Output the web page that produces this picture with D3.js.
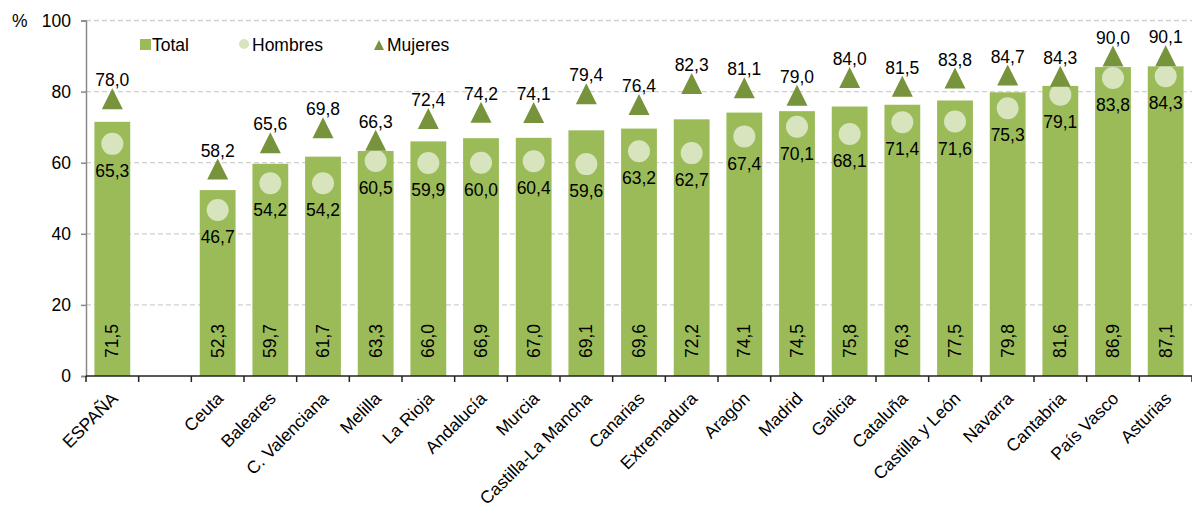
<!DOCTYPE html>
<html>
<head>
<meta charset="utf-8">
<script src="https://cdnjs.cloudflare.com/ajax/libs/d3/7.8.5/d3.min.js"></script>
<style>
  body { margin: 0; background: #fff; }
  svg { font-family: "Liberation Sans", Arial, sans-serif; }
</style>
</head>
<body>
<svg id="chart" width="1192" height="508"></svg>
<script>
const categories = ["ESPAÑA", "", "Ceuta", "Baleares", "C. Valenciana", "Melilla", "La Rioja", "Andalucía", "Murcia",
    "Castilla-La Mancha", "Canarias", "Extremadura", "Aragón", "Madrid", "Galicia", "Cataluña",
    "Castilla y León", "Navarra", "Cantabria", "País Vasco", "Asturias"];
const total   = [71.5, null, 52.3, 59.7, 61.7, 63.3, 66.0, 66.9, 67.0, 69.1, 69.6, 72.2, 74.1, 74.5, 75.8, 76.3, 77.5, 79.8, 81.6, 86.9, 87.1];
const hombres = [65.3, null, 46.7, 54.2, 54.2, 60.5, 59.9, 60.0, 60.4, 59.6, 63.2, 62.7, 67.4, 70.1, 68.1, 71.4, 71.6, 75.3, 79.1, 83.8, 84.3];
const mujeres = [78.0, null, 58.2, 65.6, 69.8, 66.3, 72.4, 74.2, 74.1, 79.4, 76.4, 82.3, 81.1, 79.0, 84.0, 81.5, 83.8, 84.7, 84.3, 90.0, 90.1];
const yTicks = [0, 20, 40, 60, 80, 100];

const margin = {top: 20.5, right: 0, bottom: 132, left: 86};
const width = 1192 - margin.left - margin.right;
const height = 508 - margin.top - margin.bottom;
const fs = 17.5;

const fmt = v => v.toFixed(1).replace(".", ",");
const colBar = "#9bbb59", colCircle = "#d7e4bd", colTri = "#77933c";
// triangle centred on its bounding box
const triPath = s => `M0,${-s / 2}L${s / 2},${s / 2}L${-s / 2},${s / 2}Z`;

const svg = d3.select("#chart");
const g = svg.append("g").attr("transform", `translate(${margin.left},${margin.top})`);

const x = d3.scaleBand().domain(d3.range(categories.length)).range([0, width]).paddingInner(0.32).paddingOuter(0.16);
const y = d3.scaleLinear().domain([0, 100]).range([height, 0]);
const step = x.step();
const cx = i => x(i) + x.bandwidth() / 2;

// grid
g.selectAll(".grid").data(yTicks.filter(d => d > 0)).join("line")
    .attr("x1", 0).attr("x2", width)
    .attr("y1", d => y(d)).attr("y2", d => y(d))
    .attr("stroke", "#d0d0d0").attr("stroke-width", 1.3).attr("stroke-dasharray", "5,3");

// y axis
const yAxis = g.append("g").call(d3.axisLeft(y).tickValues(yTicks).tickSize(5).tickPadding(10));
yAxis.select(".domain").attr("stroke", "#888").attr("stroke-width", 1.5);
yAxis.selectAll(".tick line").attr("stroke", "#888").attr("stroke-width", 1.5);
yAxis.selectAll("text").attr("font-size", fs).attr("fill", "#000").attr("font-family", "Liberation Sans, Arial, sans-serif");
svg.append("text").attr("x", 12).attr("y", y(100) + margin.top).attr("dy", "0.35em")
    .attr("font-size", fs).text("%");

const data = categories.map((c, i) => ({c, i, t: total[i], h: hombres[i], m: mujeres[i]})).filter(d => d.t != null);

// bars
g.selectAll(".bar").data(data).join("rect")
    .attr("x", d => x(d.i)).attr("width", x.bandwidth())
    .attr("y", d => y(d.t)).attr("height", d => height - y(d.t))
    .attr("fill", colBar);

g.selectAll(".tlab").data(data).join("text")
    .attr("transform", d => `translate(${cx(d.i)},${height - 18}) rotate(-90)`)
    .attr("dy", "0.35em").attr("font-size", fs).text(d => fmt(d.t));

// x axis
const xAxisG = g.append("g").attr("transform", `translate(0,${height})`);
xAxisG.append("line").attr("x1", 0).attr("x2", width).attr("stroke", "#222").attr("stroke-width", 1.5);
xAxisG.selectAll(".xt").data(d3.range(categories.length + 1)).join("line")
    .attr("x1", i => i * step).attr("x2", i => i * step)
    .attr("y1", 0).attr("y2", 6).attr("stroke", "#222").attr("stroke-width", 1.5);
xAxisG.selectAll(".xl").data(data).join("text")
    .attr("transform", d => `translate(${cx(d.i) - 2},${15}) rotate(-45)`)
    .attr("text-anchor", "end").attr("dy", "0.7em").attr("font-size", fs).text(d => d.c);

// hombres
g.selectAll(".hom").data(data).join("circle")
    .attr("cx", d => cx(d.i)).attr("cy", d => y(d.h)).attr("r", 11)
    .attr("fill", colCircle);
g.selectAll(".hlab").data(data).join("text")
    .attr("x", d => cx(d.i)).attr("y", d => y(d.h) + 27)
    .attr("dy", "0.35em").attr("text-anchor", "middle").attr("font-size", fs).text(d => fmt(d.h));

// mujeres
g.selectAll(".muj").data(data).join("path")
    .attr("d", triPath(21)).attr("transform", d => `translate(${cx(d.i)},${y(d.m)})`)
    .attr("fill", colTri);
g.selectAll(".mlab").data(data).join("text")
    .attr("x", d => cx(d.i)).attr("y", d => y(d.m) - 18.5)
    .attr("dy", "0.35em").attr("text-anchor", "middle").attr("font-size", fs).text(d => fmt(d.m));

// legend
const leg = svg.append("g").attr("font-size", fs);
leg.append("rect").attr("x", 140).attr("y", 39).attr("width", 11).attr("height", 11).attr("fill", colBar);
leg.append("text").attr("x", 152).attr("y", 45).attr("dy", "0.35em").text("Total");
leg.append("circle").attr("cx", 244).attr("cy", 44).attr("r", 5).attr("fill", colCircle);
leg.append("text").attr("x", 252).attr("y", 45).attr("dy", "0.35em").text("Hombres");
leg.append("path").attr("d", triPath(10)).attr("transform", "translate(379,45)").attr("fill", colTri);
leg.append("text").attr("x", 387).attr("y", 45).attr("dy", "0.35em").text("Mujeres");
</script>
</body>
</html>
